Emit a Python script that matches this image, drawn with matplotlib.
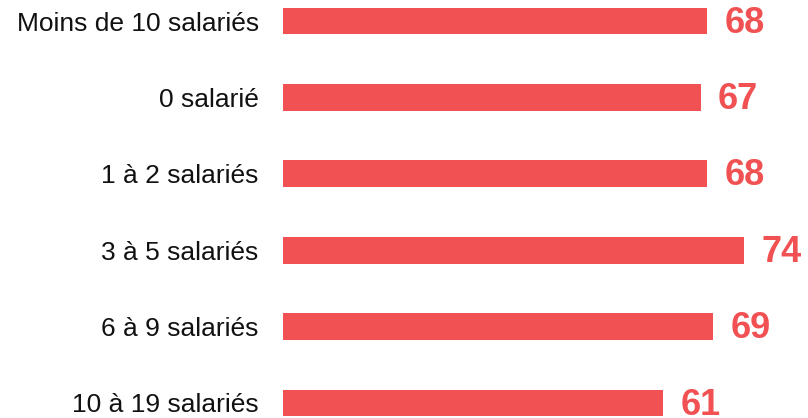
import matplotlib
matplotlib.use("Agg")
import matplotlib.pyplot as plt

categories = ["Moins de 10 salariés", "0 salarié", "1 à 2 salariés",
              "3 à 5 salariés", "6 à 9 salariés", "10 à 19 salariés"]
values = [68, 67, 68, 74, 69, 61]

color = "#F15152"
plt.rcParams['font.family'] = ['Liberation Sans', 'DejaVu Sans']

fig = plt.figure(figsize=(8.08, 4.18), dpi=100)
ax = fig.add_axes([283/808, 0, 1 - 283/808, 1])
y = list(range(len(categories)))
ax.barh(y, values, height=0.35, color=color)
ax.set_xlim(0, (808 - 283) / 6.235)
ax.set_ylim(5 + 15/76, -21/76)
for yi, v in zip(y, values):
    ax.annotate(str(v), (v, yi), xytext=(12.5, -1.5), textcoords="offset points",
                ha="left", va="center", fontsize=26, fontweight="bold", color=color)
ax.set_yticks(y)
ax.set_yticklabels(categories, fontsize=19, color="#111111")
ax.tick_params(axis="y", length=0, pad=17.5)
ax.set_xticks([])
for s in ax.spines.values():
    s.set_visible(False)
fig.savefig("out.png", dpi=100)
